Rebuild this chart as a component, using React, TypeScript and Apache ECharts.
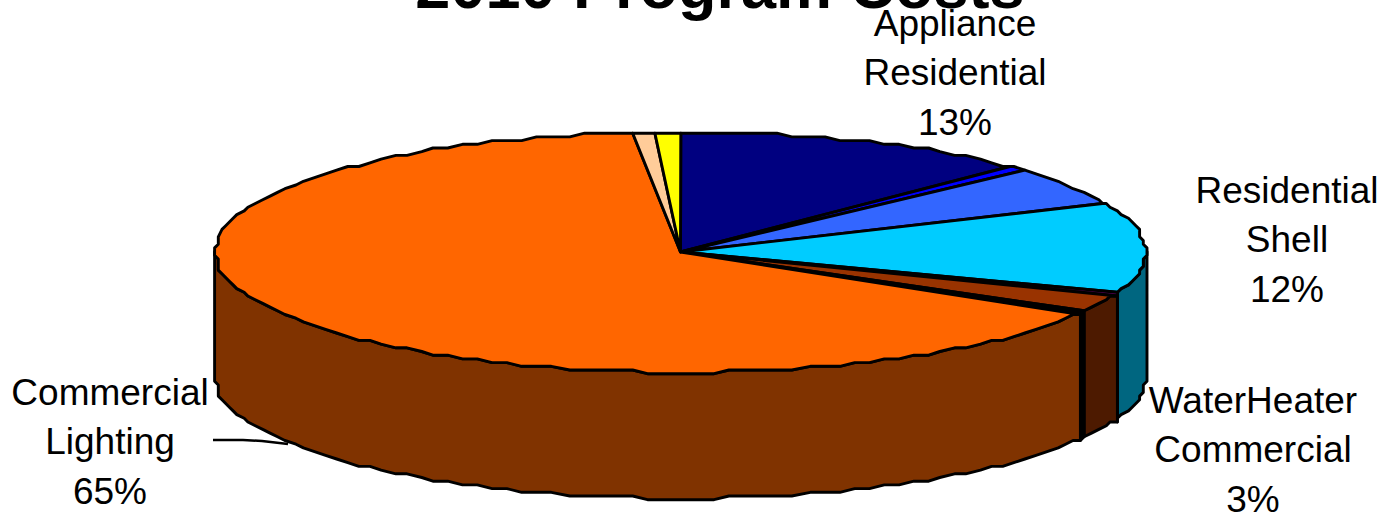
import React, { useEffect, useRef } from "react";
import * as echarts from "echarts";

const titleText = "2010 Program Costs";
const sliceNames = ["Appliance Residential", "Appliance Commercial", "WaterHeater Residential", "Residential Shell", "Sliver A", "WaterHeater Commercial", "Sliver B", "Commercial Lighting", "Other A", "Other B"];
const sliceValues = [12.6, 0.7, 4.9, 12.4, 0.1, 2.6, 0.2, 64.85, 0.8, 0.85];
const topColors = ["#000080", "#0000FF", "#3366FF", "#00CCFF", "#660066", "#993300", "#000000", "#FF6600", "#FFCC99", "#FFFF00"];
const sideColors = ["#000040", "#000080", "#193380", "#006680", "#330033", "#4D1A00", "#000000", "#803300", "#806650", "#808000"];

const labelLines = [
  ["Appliance", "Residential", "13%"],
  ["Residential", "Shell", "12%"],
  ["WaterHeater", "Commercial", "3%"],
  ["Commercial", "Lighting", "65%"],
];
const labelCentersX = [955, 1287, 1253, 110];
const labelFirstLineY = [23, 190, 400, 392];

const CX = 680.5, CY = 252, RX = 465, RY = 120.5, DEPTH = 126, GRID = 3.7, LINE = 2.9, STEP_DEG = 2;
const FONT = '"Liberation Sans", Arial, sans-serif';

const snap = (v: number) => Math.round(v / GRID) * GRID;
const rad = (pct: number) => (pct / 100) * 2 * Math.PI;
function rim(pct: number, dy = 0): number[] {
  const t = rad(pct);
  return [snap(CX + RX * Math.sin(t)), snap(CY - RY * Math.cos(t)) + dy];
}
// Walks a fixed angular lattice, so neighbouring slices share the same rim vertices.
function arc(from: number, to: number, dy = 0): number[][] {
  const step = (STEP_DEG / 360) * 100;
  const pts: number[][] = [rim(from, dy)];
  for (let k = Math.floor(from / step) + 1; k * step < to; k++) pts.push(rim(k * step, dy));
  pts.push(rim(to, dy));
  return pts;
}

const total = sliceValues.reduce((a, b) => a + b, 0);
let running = 0;
const sliceRows = sliceValues.map((v, i) => {
  const start = (running / total) * 100;
  running += v;
  return [start, (running / total) * 100, i];
});

export default function App() {
  const ref = useRef<HTMLDivElement>(null);
  useEffect(() => {
    document.body.style.margin = "0";
    const chart = echarts.init(ref.current!, undefined, { renderer: "svg" });
    const graphicTexts: any[] = [];
    labelLines.forEach((lines, i) => {
      lines.forEach((line, j) => {
        graphicTexts.push({
          type: "text",
          x: labelCentersX[i],
          y: labelFirstLineY[i] + j * 49.5,
          silent: true,
          style: { text: line, fontFamily: FONT, fontSize: 37, fill: "#000", align: "center", verticalAlign: "middle" },
        });
      });
    });
    chart.setOption({
      animation: false,
      backgroundColor: "#fff",
      title: {
        text: titleText,
        left: 715,
        top: -51,
        textAlign: "center",
        textStyle: { fontFamily: FONT, fontSize: 63, fontWeight: "bold", color: "#000" },
      },
      graphic: [
        ...graphicTexts,
        {
          type: "polyline",
          silent: true,
          z: 10,
          shape: { points: [[213, 440], [243, 440], [262, 441], [288, 444]] },
          style: { stroke: "#000", lineWidth: 2.5, fill: "none" },
        },
      ],
      series: [
        {
          type: "custom",
          coordinateSystem: "none",
          silent: true,
          z: 1,
          data: sliceRows,
          renderItem: (_p: any, api: any) => {
            const s = Math.max(api.value(0), 0);
            const e = api.value(1);
            const i = api.value(2);
            const a = Math.max(s, 25);
            const b = Math.min(e, 75);
            if (b <= a) return { type: "group", children: [] };
            const top = arc(a, b);
            const bottom = arc(a, b, DEPTH).reverse();
            return {
              type: "polygon",
              shape: { points: [...top, ...bottom] },
              style: { fill: sideColors[i], stroke: "#000", lineWidth: LINE, lineJoin: "round" },
            };
          },
        },
        {
          type: "custom",
          coordinateSystem: "none",
          silent: true,
          z: 2,
          data: sliceRows,
          renderItem: (_p: any, api: any) => {
            const i = api.value(2);
            return {
              type: "polygon",
              shape: { points: [[CX, CY], ...arc(api.value(0), api.value(1))] },
              style: { fill: topColors[i], stroke: "#000", lineWidth: LINE, lineJoin: "round" },
            };
          },
        },
      ],
    });
    return () => chart.dispose();
  }, []);
  return <div ref={ref} style={{ position: "absolute", left: 0, top: 0, width: 1383, height: 515 }} />;
}
